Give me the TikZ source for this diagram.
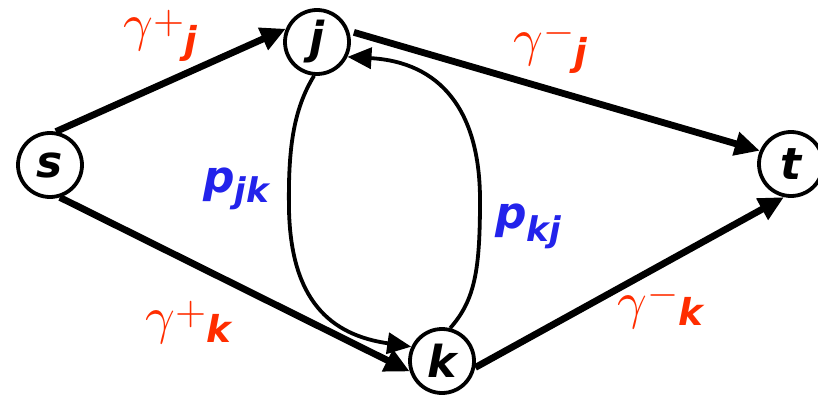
\documentclass[tikz,border=0pt]{standalone}
\usepackage{graphicx}
\usepackage{fontspec}
\usetikzlibrary{arrows.meta}
\newfontfamily\cfont{DejaVu Sans}
\definecolor{lblred}{RGB}{255,45,0}
\definecolor{lblblue}{RGB}{35,35,235}
\tikzset{
  vtx/.style={circle,draw=black,line width=3.8pt,minimum size=64pt,inner sep=0pt,
    font=\cfont\bfseries\itshape\fontsize{44}{44}\selectfont},
  thickedge/.style={line width=6.8pt,-{Triangle[length=25pt,width=23pt]}},
  thinedge/.style={line width=3.8pt,-{Triangle[length=24pt,width=21pt]}},
  glab/.style={anchor=base west,inner sep=0pt,text=lblred},
  plab/.style={anchor=base west,inner sep=0pt,text=lblblue,font=\cfont\bfseries\itshape},
}
\newcommand{\gam}{\scalebox{5.2}{$\gamma$}}
\newcommand{\sgn}[2]{\raisebox{#1}{\scalebox{4}{$#2$}}}
\newcommand{\idx}[2]{\raisebox{-#1}{\cfont\bfseries\itshape\fontsize{37}{37}\selectfont #2}}
\begin{document}
\begin{tikzpicture}[x=1pt,y=-1pt]
\useasboundingbox (0,0) rectangle (818,398);
\node[vtx] (s) at (50,165) {s};
\node[vtx] (j) at (317,42) {j};
\node[vtx] (t) at (791,164) {t};
\node[vtx] (k) at (442,361) {k};

\draw[thickedge] (s.80) -- (j.157);
\draw[thickedge,shorten <=5pt] (j.19) -- (t.157);
\draw[thickedge] (s.-73) -- (k.198);
\draw[thickedge] (k.-11) -- (t.258);
\draw[thinedge] (j.-95) .. controls (293,110) and (288,150) .. (289,210)
  .. controls (291,300) and (330,335) .. (k.155);
\draw[thinedge] (k.76) .. controls (475,300) and (480,270) .. (480,200)
  .. controls (480,110) and (440,62) .. (j.-26);

\node[glab] (gpj) at (123,41) {\gam\sgn{7pt}{+}\idx{13pt}{j}};
\node[glab] (gmj) at (513,56) {\gam\sgn{12pt}{-}\idx{10pt}{j}};
\node[glab] (gpk) at (145,333) {\gam\sgn{9pt}{+}\idx{9pt}{k}};
\node[glab] (gmk) at (617,318) {\gam\sgn{13pt}{-}\idx{7pt}{k}};

\node[plab] (pjk) at (203,192) {{\fontsize{44}{44}\selectfont p}\raisebox{-10pt}{\fontsize{34}{34}\selectfont jk}};
\node[plab] (pkj) at (495,228) {{\fontsize{44}{44}\selectfont p}\raisebox{-13pt}{\fontsize{34}{34}\selectfont kj}};
\end{tikzpicture}
\end{document}
